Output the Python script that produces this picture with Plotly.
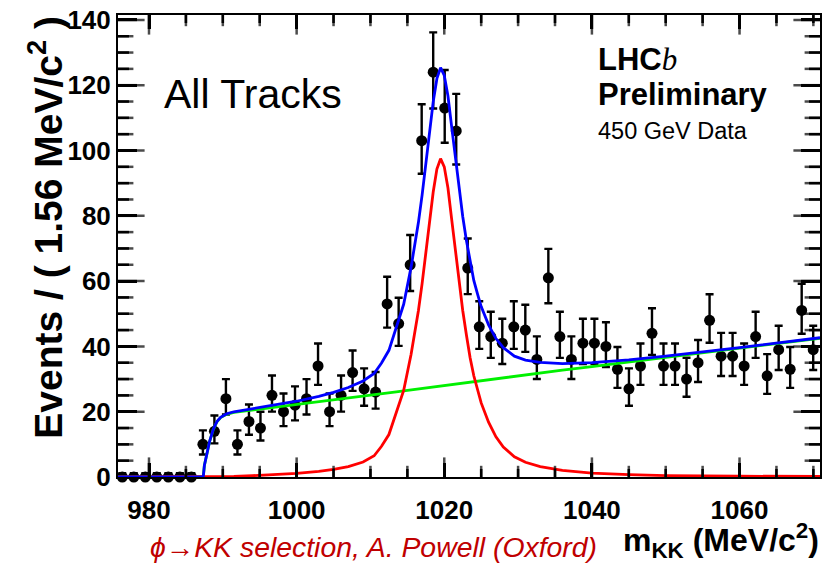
import numpy as np
import plotly.graph_objects as go

# ---------------- data ----------------
bin_low_edge = 975.6      # MeV/c^2
bin_width = 1.56          # MeV/c^2
counts = [0, 0, 0, 0, 0, 0, 0,
          10, 14, 24, 10, 17, 15, 25, 20, 22, 24, 34, 20, 25, 32, 27, 26,
          53, 47, 65, 103, 124, 113, 106, 64, 46, 43, 41, 46, 45, 36, 61,
          43, 36, 41, 41, 40, 33, 27, 34, 44, 34, 34, 30, 35, 48, 37, 37,
          34, 43, 31, 39, 33, 51, 39]

fit_mass = [975.8, 987.35, 987.5, 987.8, 988.2, 988.7, 989.2, 989.7, 990.5, 991.5,
            994, 997, 1000, 1003, 1005, 1007, 1009, 1010.5, 1011.5, 1012.5, 1013.5,
            1014.5, 1015.5, 1016, 1016.5, 1017, 1017.5, 1018, 1018.5, 1019, 1019.5,
            1020, 1020.5, 1021, 1021.5, 1022, 1022.5, 1023, 1023.5, 1024, 1024.5,
            1025, 1026, 1027, 1028, 1029.5, 1031, 1033, 1036, 1040, 1045, 1050,
            1060, 1070.9]
fit_background = [0, 0, 3.5, 6.8, 10.8, 14.5, 16.9, 18.2, 19.2, 19.8,
                  20.5, 21.3, 22.1, 23.0, 23.6, 24.2, 24.8, 25.2, 25.5, 25.8, 26.1,
                  26.4, 26.7, 26.8, 27.0, 27.1, 27.3, 27.4, 27.6, 27.7, 27.9,
                  28.0, 28.2, 28.3, 28.5, 28.6, 28.8, 28.9, 29.1, 29.2, 29.4,
                  29.5, 29.8, 30.1, 30.4, 30.8, 31.3, 31.9, 32.7, 33.8, 35.2, 36.6,
                  39.4, 42.5]
fit_signal = [0, 0, 0, 0, 0.02, 0.04, 0.06, 0.08, 0.12, 0.18,
              0.4, 0.7, 1.1, 1.7, 2.3, 3.2, 4.6, 6.5, 9.4, 13.0, 19.5,
              26.5, 37.5, 44.0, 51.0, 59.3, 69.0, 78.5, 87.3, 94.3, 97.5,
              95.0, 88.5, 79.0, 69.0, 59.3, 51.0, 43.5, 36.5, 31.0, 26.7,
              22.7, 16.8, 12.3, 9.2, 6.2, 4.5, 3.2, 2.0, 1.2, 0.7, 0.45,
              0.25, 0.15]

x_range = [975.8, 1070.9]
y_range = [0, 141.5]

# ---------------- derived ----------------
n = np.array(counts, dtype=float)
centers = (bin_low_edge + bin_width * (np.arange(len(counts)) + 0.5)).tolist()
# Poisson 68% central interval (Gehrels approximation)
up = np.where(n > 0, np.sqrt(n + 0.75) + 1.0, 1.15).tolist()
safe_n = np.where(n > 0, n, 1.0)
low_val = safe_n * (1 - 1 / (9 * safe_n) - 1 / (3 * np.sqrt(safe_n))) ** 3
down = np.where(n > 0, n - low_val, 0.0).tolist()
fit_total = [s + b for s, b in zip(fit_signal, fit_background)]

# ---------------- figure ----------------
W, H = 825, 564
L, R, T, B = 118, 3, 15, 87
pw, ph = W - L - R, H - T - B


def px(x):
    return (x - L) / pw


def py(y):
    return (H - B - y) / ph


# inside ticks on all four sides (ROOT style), as paper-referenced shapes
xt_val = [980.0 + 5.0 * i for i in range(19)]
xt_len = [14 if i % 4 == 0 else 8 for i in range(19)]
yt_val = [5.0 * i for i in range(1, 29)]
yt_len = [19 if i % 4 == 0 else 11 for i in range(1, 29)]
shapes = []
tick_line = dict(color="black", width=2.5)
for v, ln in zip(xt_val, xt_len):
    xp = (v - x_range[0]) / (x_range[1] - x_range[0])
    shapes.append(dict(type="line", xref="paper", yref="paper", layer="above",
                       x0=xp, x1=xp, y0=0, y1=ln / ph, line=tick_line))
    shapes.append(dict(type="line", xref="paper", yref="paper", layer="above",
                       x0=xp, x1=xp, y0=1, y1=1 - ln / ph, line=tick_line))
for v, ln in zip(yt_val, yt_len):
    yp = (v - y_range[0]) / (y_range[1] - y_range[0])
    shapes.append(dict(type="line", xref="paper", yref="paper", layer="above",
                       x0=0, x1=ln / pw, y0=yp, y1=yp, line=tick_line))
    shapes.append(dict(type="line", xref="paper", yref="paper", layer="above",
                       x0=1, x1=1 - ln / pw, y0=yp, y1=yp, line=tick_line))

fig = go.Figure()
fig.add_trace(go.Scatter(
    x=centers, y=counts, mode="markers",
    marker=dict(color="black", size=11, symbol="circle"),
    error_y=dict(type="data", symmetric=False, array=up, arrayminus=down,
                 color="black", thickness=2.4, width=4),
    cliponaxis=False, showlegend=False, hoverinfo="skip"))
fig.add_trace(go.Scatter(x=fit_mass, y=fit_background, mode="lines",
                         line=dict(color="#00f000", width=2.8), showlegend=False))
fig.add_trace(go.Scatter(x=fit_mass, y=fit_signal, mode="lines",
                         line=dict(color="#ff0000", width=2.8), showlegend=False))
fig.add_trace(go.Scatter(x=fit_mass, y=fit_total, mode="lines",
                         line=dict(color="#0000ff", width=2.8), showlegend=False))
# same ticks also as line markers centred on the frame (outer half clipped)
for yv in y_range:
    fig.add_trace(go.Scatter(
        x=xt_val, y=[yv] * len(xt_val), mode="markers", cliponaxis=True,
        marker=dict(symbol="line-ns", size=[2 * l for l in xt_len], color="black",
                    line=dict(width=2.5, color="black")),
        showlegend=False, hoverinfo="skip"))
for xv in x_range:
    fig.add_trace(go.Scatter(
        x=[xv] * len(yt_val), y=yt_val, mode="markers", cliponaxis=True,
        marker=dict(symbol="line-ew", size=[2 * l for l in yt_len], color="black",
                    line=dict(width=2.5, color="black")),
        showlegend=False, hoverinfo="skip"))

tickfont = dict(family="Liberation Sans", size=26, color="black", weight="bold")
fig.update_xaxes(range=x_range, tick0=980, dtick=20, ticks="inside", ticklen=14,
                 tickwidth=2.5, tickcolor="black",
                 showline=True, linewidth=2, linecolor="black", mirror="ticks",
                 showgrid=False, zeroline=False, tickfont=tickfont,
                 ticklabelstandoff=9)
fig.update_yaxes(range=y_range, tick0=0, dtick=20, ticks="inside", ticklen=19,
                 tickwidth=2.5, tickcolor="black",
                 showline=True, linewidth=2, linecolor="black", mirror="ticks",
                 showgrid=False, zeroline=False, tickfont=tickfont,
                 ticklabelstandoff=0)

ann = []
ann.append(dict(text="All Tracks", x=px(162), y=py(94), xanchor="left", yanchor="middle",
                font=dict(family="Liberation Sans", size=41, color="black")))
ann.append(dict(text="LHC<i><span style='font-family:Liberation Serif;font-weight:normal'>b</span></i>",
                x=px(597), y=py(60), xanchor="left", yanchor="middle",
                font=dict(family="Liberation Sans", size=31, color="black", weight="bold")))
ann.append(dict(text="Preliminary", x=px(597), y=py(94), xanchor="left", yanchor="middle",
                font=dict(family="Liberation Sans", size=31, color="black", weight="bold")))
ann.append(dict(text="450 GeV Data", x=px(597), y=py(131), xanchor="left", yanchor="middle",
                font=dict(family="Liberation Sans", size=23.5, color="black")))
ann.append(dict(text="Events / ( 1.56 MeV/c<sup>2</sup> )", x=px(45), y=py(14),
                xanchor="center", yanchor="top", textangle=-90,
                font=dict(family="Liberation Sans", size=39, color="black", weight="bold")))
ann.append(dict(text="m<sub>KK</sub> (MeV/c<sup>2</sup>)", x=px(823), y=py(540),
                xanchor="right", yanchor="middle",
                font=dict(family="Liberation Sans", size=32, color="black", weight="bold")))
ann.append(dict(text="ϕ→KK selection, A. Powell (Oxford)", x=px(148), y=py(547),
                xanchor="left", yanchor="middle",
                font=dict(family="Liberation Sans", size=28.4, color="#c00000", style="italic")))
for a in ann:
    a.update(xref="paper", yref="paper", showarrow=False)

fig.update_layout(width=W, height=H, margin=dict(l=L, r=R, t=T, b=B),
                  paper_bgcolor="white", plot_bgcolor="white", annotations=ann,
                  shapes=shapes)
fig.write_html("out.html")
